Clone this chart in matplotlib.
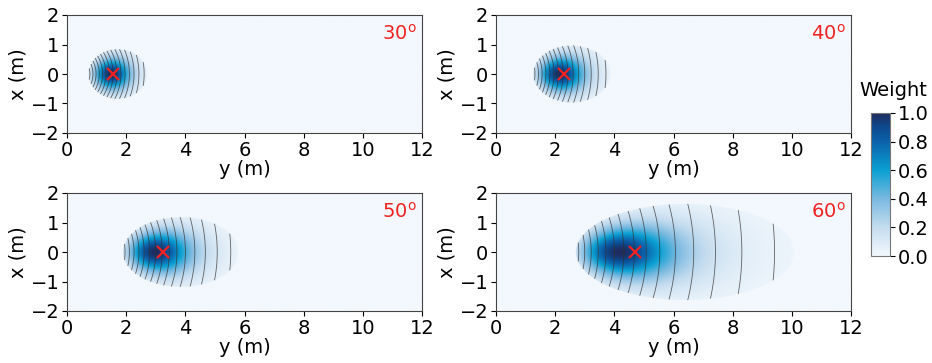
import numpy as np
import matplotlib
matplotlib.use("Agg")
import matplotlib.pyplot as plt
from matplotlib.colors import LinearSegmentedColormap

# ---- values ----
tilt_angles = [30, 40, 50, 60]            # degrees, panel labels
marker_y = [1.55, 2.3, 3.25, 4.7]         # red x position (y, m)
marker_x = [0.0, 0.0, 0.0, 0.0]
sensor_height = 2.7                       # m (from footprint extents)
beam_half_angle = 15.0                    # deg, footprint edge
beam_sigma = 10.0                         # deg, weight fall-off
contour_levels = list(range(2, 90, 2))    # elevation-angle isolines (deg)
y_ticks = [0, 2, 4, 6, 8, 10, 12]
x_ticks = [-2, -1, 0, 1, 2]
cbar_ticks = [0.0, 0.2, 0.4, 0.6, 0.8, 1.0]

cmap = LinearSegmentedColormap.from_list(
    "weight",
    [(0.0, "#f3f8fd"), (0.2, "#c4dcef"), (0.4, "#79b9e0"),
     (0.6, "#0aa0d2"), (0.8, "#0b62ab"), (0.9, "#0c4a8e"), (1.0, "#1f2b5f")])

plt.rcParams["font.family"] = ["DejaVu Sans"]
plt.rcParams["font.size"] = 14

fig = plt.figure(figsize=(9.32, 3.63), dpi=100)
W, H = 932.0, 363.0
boxes = [(67, 15), (496, 15), (67, 193), (496, 193)]
aw, ah = 355, 118

yg = np.linspace(0, 12, 1200)
xg = np.linspace(-2, 2, 400)
Y, X = np.meshgrid(yg, xg)
h = sensor_height

im = None
for i, (px, py) in enumerate(boxes):
    ax = fig.add_axes([px / W, 1 - (py + ah) / H, aw / W, ah / H])
    t = np.radians(tilt_angles[i])
    r = np.sqrt(X**2 + Y**2 + h**2)
    cosang = (Y * np.sin(t) + h * np.cos(t)) / r
    alpha = np.degrees(np.arccos(np.clip(cosang, -1, 1)))
    inside = alpha <= beam_half_angle
    w = np.exp(-(alpha / beam_sigma) ** 2) * (h / r) ** 2
    w = np.where(inside, w, 0.0)
    w = w / w.max()
    im = ax.imshow(w, extent=[0, 12, -2, 2], origin="lower", aspect="auto",
                   cmap=cmap, vmin=0, vmax=1, interpolation="bilinear")
    el = np.degrees(np.arctan(np.sqrt(X**2 + Y**2) / h))
    el_m = np.ma.masked_where(~inside, el)
    ax.contour(Y, X, el_m, levels=contour_levels, colors="#333333",
               linewidths=0.6, alpha=0.75)
    ax.plot(marker_y[i], marker_x[i], marker="x", color="#ee2222",
            markersize=8, mew=1.6, linestyle="none")
    ax.text(0.985, 0.93, f"{tilt_angles[i]}$^{{\\rm o}}$", transform=ax.transAxes,
            ha="right", va="top", color="#ee2222", fontsize=14)
    ax.set_xlim(0, 12)
    ax.set_ylim(-2, 2)
    ax.set_xticks(y_ticks)
    ax.set_yticks(x_ticks)
    ax.tick_params(labelsize=14, pad=2)
    ax.set_xlabel("y (m)", labelpad=0, fontsize=14)
    ax.set_ylabel("x (m)", labelpad=2, fontsize=14)
    for s in ax.spines.values():
        s.set_color("#444444")
        s.set_linewidth(0.8)

cax = fig.add_axes([871 / W, 1 - 256 / H, 19 / W, 143 / H])
cb = fig.colorbar(im, cax=cax, ticks=cbar_ticks)
cb.outline.set_edgecolor("#777777")
cb.ax.tick_params(labelsize=14, pad=2)
fig.text(893 / W, 1 - 90 / H, "Weight", ha="center", va="center", fontsize=14)

fig.savefig("out.png", dpi=100)
